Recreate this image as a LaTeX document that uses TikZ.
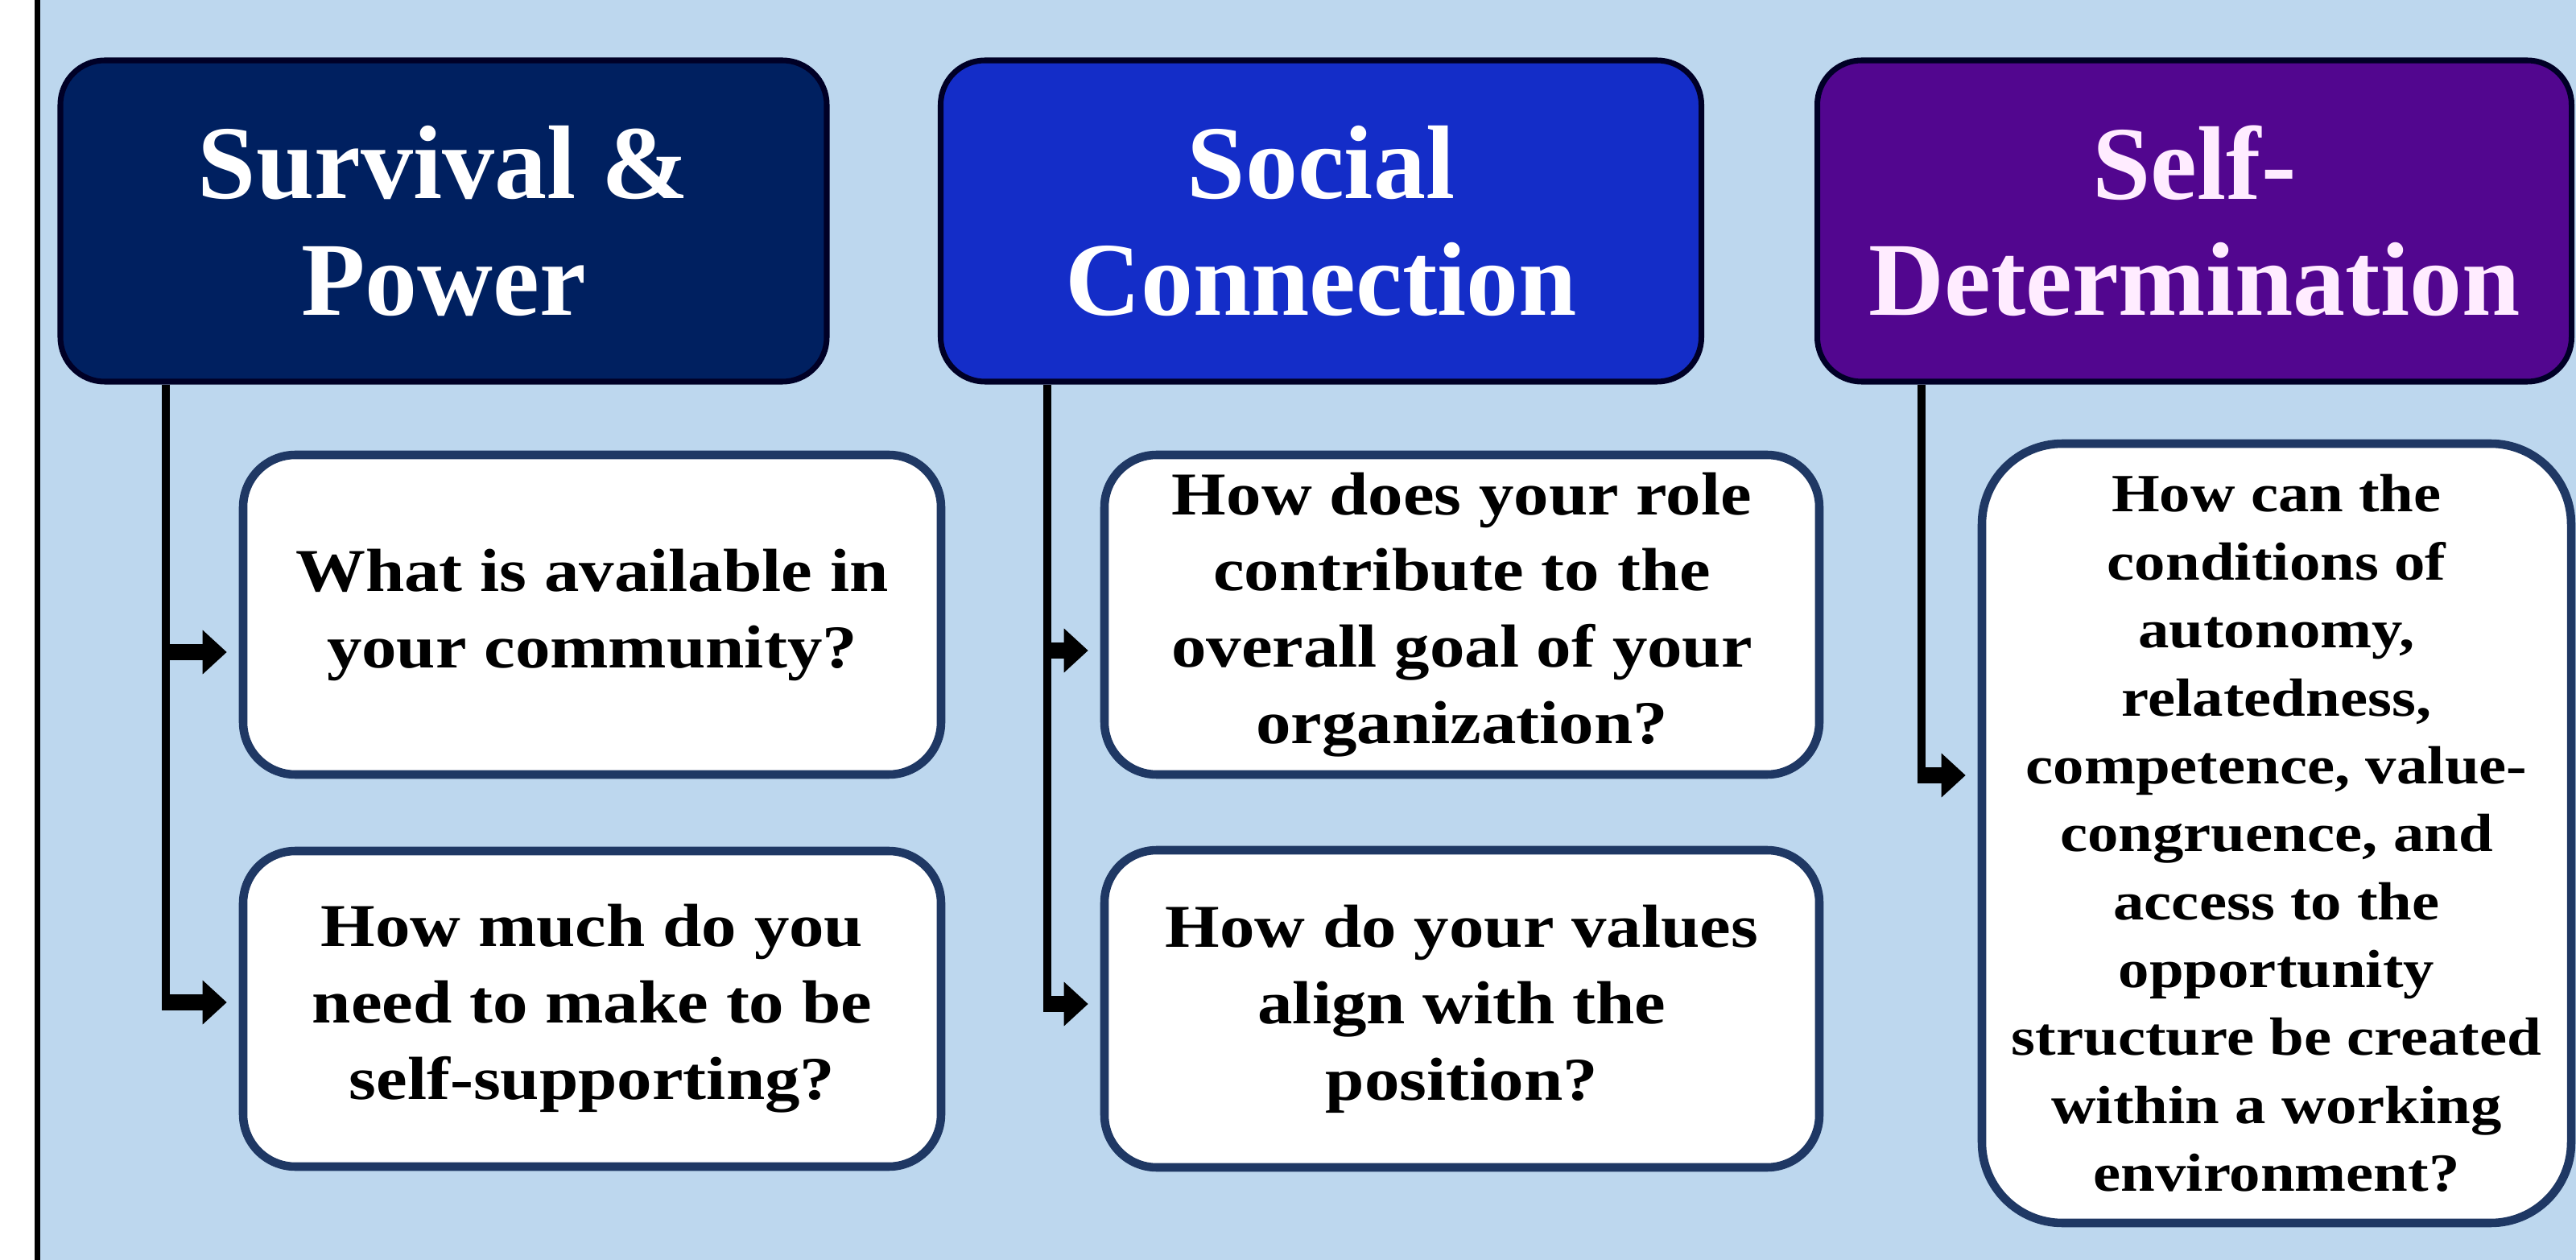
\documentclass[tikz,border=0pt]{standalone}
\usepackage{fontspec}
\setmainfont{Liberation Serif}
\newfontfamily\headfont{Liberation Serif}
\newfontfamily\askfont{Liberation Serif}[FakeStretch=1.15]
\usetikzlibrary{arrows.meta,positioning}

\definecolor{paleblue}{RGB}{189,215,238}
\definecolor{navyfill}{RGB}{0,32,96}
\definecolor{royalfill}{RGB}{20,45,200}
\definecolor{purplefill}{RGB}{82,6,143}
\definecolor{askborder}{RGB}{31,56,100}
\definecolor{pinkwhite}{RGB}{255,236,255}

\tikzset{
  head/.style={draw=black!85!blue, line width=2pt, rounded corners=0.55cm,
    text=white, align=center, inner sep=0pt, minimum height=3.99cm,
    font=\headfont\bfseries\fontsize{37}{41}\selectfont},
  ask/.style={draw=askborder, fill=white, line width=3pt, rounded corners=0.65cm,
    align=center, inner sep=0pt,
    font=\askfont\bfseries\fontsize{21.5}{27}\selectfont},
  trunk/.style={line width=2.8pt},
  branch/.style={line width=5.7pt, -{Triangle[length=0.3cm,width=0.53cm]}, shorten >=0.15cm},
}

\begin{document}
\begin{tikzpicture}
	\useasboundingbox (0,0) rectangle (32,-15.65);
	\fill[white] (0,0) rectangle (32,-15.65);
	\fill[paleblue] (0.465,0) rectangle (32,-15.65);
	\draw[line width=0.07cm] (0.465,0) -- (0.465,-15.65);

	% headings
	\node[head, fill=navyfill, minimum width=9.52cm] (survival) at (5.51,-2.745) {Survival \&\\Power};
	\node[head, fill=royalfill, minimum width=9.45cm] (social) at (16.41,-2.745) {Social\\Connection};
	\node[head, fill=purplefill, text=pinkwhite, minimum width=9.37cm] (selfdet) at (27.26,-2.745) {Self-\\Determination};

	% questions
	\node[ask, minimum width=8.67cm, minimum height=3.97cm] (avail) at (7.355,-7.635) {What is available in\\your community?};
	\node[ask, minimum width=8.67cm, minimum height=3.92cm] (earn) at (7.355,-12.53) {How much do you\\need to make to be\\self-supporting?};
	\node[ask, minimum width=8.88cm, minimum height=3.97cm] (role) at (18.16,-7.635) {How does your role\\contribute to the\\overall goal of your\\organization?};
	\node[ask, minimum width=8.88cm, minimum height=3.94cm] (values) at (18.16,-12.53) {How do your values\\align with the\\position?};
	\node[ask, rounded corners=1cm, minimum width=7.32cm, minimum height=9.68cm,
		font=\askfont\bfseries\fontsize{19}{24}\selectfont] (cond) at (28.28,-10.35)
		{How can the\\conditions of\\autonomy,\\relatedness,\\competence, value-\\congruence, and\\access to the\\opportunity\\structure be created\\within a working\\environment?};

	% branch points
	\coordinate (s1) at (2.06,-8.1);
	\coordinate (s2) at (2.06,-12.45);
	\coordinate (c1) at (13.01,-8.08);
	\coordinate (c2) at (13.01,-12.47);
	\coordinate (d1) at (23.87,-9.63);

	\draw[trunk] (survival.south -| s1) -- ([yshift=-0.1cm]s2);
	\draw[branch] ([xshift=-1.4pt]s1) -- (s1 -| avail.west);
	\draw[branch] ([xshift=-1.4pt]s2) -- (s2 -| earn.west);

	\draw[trunk] (social.south -| c1) -- ([yshift=-0.1cm]c2);
	\draw[branch] ([xshift=-1.4pt]c1) -- (c1 -| role.west);
	\draw[branch] ([xshift=-1.4pt]c2) -- (c2 -| values.west);

	\draw[trunk] (selfdet.south -| d1) -- ([yshift=-0.1cm]d1);
	\draw[branch] ([xshift=-1.4pt]d1) -- (d1 -| cond.west);
\end{tikzpicture}
\end{document}
